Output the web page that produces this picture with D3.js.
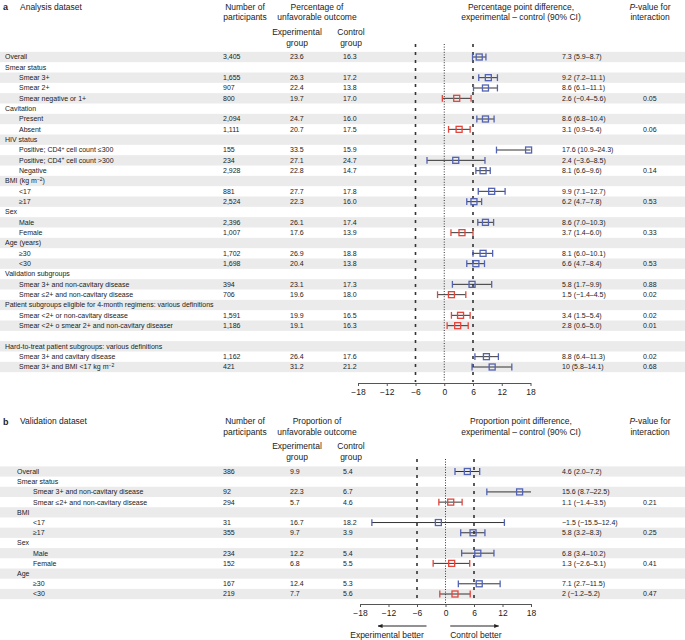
<!DOCTYPE html>
<meta charset="utf-8">
<style>
body { margin: 0; background: #fff; }
svg { font-family: "Liberation Sans", Arial, Helvetica, sans-serif; }
text { fill: #222; }
.stripe { fill: #ebebeb; }
.row { font-size: 7px; }
.head { font-size: 8.5px; }
.tag { font-size: 9px; font-weight: bold; }
.whisker { stroke: #333; stroke-width: 1; }
.ref { fill: none; stroke: #333; }
.axis path, .axis line { stroke: #555; }
.axis text { font-size: 8.5px; fill: #222; font-family: "Liberation Sans", Arial, sans-serif; }
</style>
<svg width="685" height="640"></svg>
<script src="https://d3js.org/d3.v7.min.js"></script>
<script>

// ---- panel a: analysis dataset ----
var labelsA = ["Overall", "Smear status", "Smear 3+", "Smear 2+", "Smear negative or 1+",
  "Cavitation", "Present", "Absent",
  "HIV status", "Positive; CD4^{+} cell count ≤300", "Positive; CD4^{+} cell count >300", "Negative",
  "BMI (kg m^{−2})", "<17", "≥17",
  "Sex", "Male", "Female",
  "Age (years)", "≥30", "<30",
  "Validation subgroups", "Smear 3+ and non-cavitary disease", "Smear ≤2+ and non-cavitary disease",
  "Patient subgroups eligible for 4-month regimens: various definitions",
  "Smear <2+ or non-cavitary disease", "Smear <2+ o smear 2+ and non-cavitary diseaser",
  "",
  "Hard-to-treat patient subgroups: various definitions",
  "Smear 3+ and cavitary disease", "Smear 3+ and BMI <17 kg m^{−2}"];
var levelsA = [0, 0, 1, 1, 1, 0, 1, 1, 0, 1, 1, 1, 0, 1, 1, 0, 1, 1, 0, 1, 1, 0, 1, 1, 0, 1, 1, 0, 0, 1, 1];
var nA = ["3,405", null, "1,655", "907", "800", null, "2,094", "1,111", null, "155", "234", "2,928",
  null, "881", "2,524", null, "2,396", "1,007", null, "1,702", "1,698", null, "394", "706",
  null, "1,591", "1,186", null, null, "1,162", "421"];
var expA = [23.6, null, 26.3, 22.4, 19.7, null, 24.7, 20.7, null, 33.5, 27.1, 22.8, null, 27.7, 22.3,
  null, 26.1, 17.6, null, 26.9, 20.4, null, 23.1, 19.6, null, 19.9, 19.1, null, null, 26.4, 31.2];
var ctlA = [16.3, null, 17.2, 13.8, 17.0, null, 16.0, 17.5, null, 15.9, 24.7, 14.7, null, 17.8, 16.0,
  null, 17.4, 13.9, null, 18.8, 13.8, null, 17.3, 18.0, null, 16.5, 16.3, null, null, 17.6, 21.2];
var estA = [7.3, null, 9.2, 8.6, 2.6, null, 8.6, 3.1, null, 17.6, 2.4, 8.1, null, 9.9, 6.2,
  null, 8.6, 3.7, null, 8.1, 6.6, null, 5.8, 1.5, null, 3.4, 2.8, null, null, 8.8, 10];
var loA = [5.9, null, 7.2, 6.1, -0.4, null, 6.8, 0.9, null, 10.9, -3.6, 6.6, null, 7.1, 4.7,
  null, 7.0, 1.4, null, 6.0, 4.7, null, 1.7, -1.4, null, 1.5, 0.6, null, null, 6.4, 5.8];
var hiA = [8.7, null, 11.1, 11.1, 5.6, null, 10.4, 5.4, null, 24.3, 8.5, 9.6, null, 12.7, 7.8,
  null, 10.3, 6.0, null, 10.1, 8.4, null, 9.9, 4.5, null, 5.4, 5.0, null, null, 11.3, 14.1];
var pA = [null, null, null, null, "0.05", null, null, "0.06", null, null, null, "0.14", null, null, "0.53",
  null, null, "0.33", null, null, "0.53", null, "0.88", "0.02", null, "0.02", "0.01", null, null, "0.02", "0.68"];
var redA = [4, 7, 17, 23, 25, 26];

// ---- panel b: validation dataset ----
var labelsB = ["Overall", "Smear status", "Smear 3+ and non-cavitary disease", "Smear ≤2+ and non-cavitary disease",
  "BMI", "<17", "≥17", "Sex", "Male", "Female", "Age", "≥30", "<30"];
var levelsB = [0, 0, 1, 1, 0, 1, 1, 0, 1, 1, 0, 1, 1];
var nB = ["386", null, "92", "294", null, "31", "355", null, "234", "152", null, "167", "219"];
var expB = [9.9, null, 22.3, 5.7, null, 16.7, 9.7, null, 12.2, 6.8, null, 12.4, 7.7];
var ctlB = [5.4, null, 6.7, 4.6, null, 18.2, 3.9, null, 5.4, 5.5, null, 5.3, 5.6];
var estB = [4.6, null, 15.6, 1.1, null, -1.5, 5.8, null, 6.8, 1.3, null, 7.1, 2];
var loB = [2.0, null, 8.7, -1.4, null, -15.5, 3.2, null, 3.4, -2.6, null, 2.7, -1.2];
var hiB = [7.2, null, 22.5, 3.5, null, 12.4, 8.3, null, 10.2, 5.1, null, 11.5, 5.2];
var pB = [null, null, null, "0.21", null, null, "0.25", null, null, "0.41", null, null, "0.47"];
var redB = [3, 9, 12];

var tickVals = [-18, -12, -6, 0, 6, 12, 18];
var refLines = [-6, 0, 6];

var blue = "#5262b4", red = "#e4453b";
var svg = d3.select("svg");

function fmt1(v) { return v.toFixed(1).replace("-", "−"); }
function fmtEst(v) { return (Number.isInteger(v) ? String(v) : v.toFixed(1)).replace("-", "−"); }

// label with ^{sup} pieces
function richText(sel, str) {
  var parts = str.split(/\^\{([^}]*)\}/);
  var back = 0;
  parts.forEach(function(p, i) {
    if (i % 2) {
      sel.append("tspan").attr("dy", -2.6).style("font-size", "5px").text(p);
      back = 2.6;
    } else if (p) {
      var ts = sel.append("tspan").text(p);
      if (back) ts.attr("dy", back);
      back = 0;
    }
  });
}

function headText(x, y, lines, anchor, cls) {
  lines.forEach(function(l, i) {
    var t = svg.append("text")
        .attr("class", cls || "head")
        .attr("x", x).attr("y", y[i])
        .attr("dy", "0.35em")
        .attr("text-anchor", anchor || "middle");
    if (l.indexOf("P-value") === 0) {
      t.append("tspan").style("font-style", "italic").text("P");
      t.append("tspan").text(l.slice(1));
    } else t.text(l);
  });
}

function panel(o) {
  var n = o.labels.length;
  var y = d3.scaleLinear().domain([0, n - 1]).range([o.first, o.last]);
  var rowH = (o.last - o.first) / (n - 1);
  var x = d3.scaleLinear().domain([-18, 18]).range(o.xr);
  var h = o.head;

  // headers
  headText(3, [h], [o.tag], "start", "tag");
  headText(20, [h], [o.title], "start");
  headText(245, [h, h + 10.5], ["Number of", "participants"]);
  headText(317, [h, h + 10.5], o.pctHead);
  headText(297, [h + 25, h + 36], ["Experimental", "group"]);
  headText(351, [h + 25, h + 36], ["Control", "group"]);
  headText(521, [h, h + 10.5], o.diffHead);
  headText(650, [h, h + 10.5], ["P-value for", "interaction"]);

  // stripes
  svg.append("g").selectAll("rect")
      .data(d3.range(n).filter(function(i) { return i % 2 === 0; }))
    .enter().append("rect")
      .attr("class", "stripe")
      .attr("x", 0).attr("width", 685)
      .attr("y", function(i) { return y(i) - rowH / 2; })
      .attr("height", rowH);

  // reference lines
  svg.append("g").selectAll("line")
      .data(refLines)
    .enter().append("line")
      .attr("class", "ref")
      .attr("x1", function(d) { return x(d); }).attr("x2", function(d) { return x(d); })
      .attr("y1", o.refTop).attr("y2", o.axisY - 1)
      .attr("stroke-width", function(d) { return d === 0 ? 1 : 1.6; })
      .attr("stroke-dasharray", function(d) { return d === 0 ? "1,1.6" : "3,5"; });

  var rows = svg.append("g").attr("class", "row");
  d3.range(n).forEach(function(i) {
    var yy = y(i);
    var t = rows.append("text")
        .attr("x", o.indent[o.levels[i]]).attr("y", yy).attr("dy", "0.35em");
    richText(t, o.labels[i]);
    if (o.nn[i] == null) return;
    rows.append("text").attr("x", 223).attr("y", yy).attr("dy", "0.35em").text(o.nn[i]);
    rows.append("text").attr("x", 290).attr("y", yy).attr("dy", "0.35em").text(fmt1(o.exp[i]));
    rows.append("text").attr("x", 343).attr("y", yy).attr("dy", "0.35em").text(fmt1(o.ctl[i]));
    rows.append("text").attr("x", 562).attr("y", yy).attr("dy", "0.35em")
        .text(fmtEst(o.est[i]) + " (" + fmt1(o.lo[i]) + "–" + fmt1(o.hi[i]) + ")");
    if (o.p[i]) rows.append("text").attr("x", 643).attr("y", yy).attr("dy", "0.35em").text(o.p[i]);

    var col = o.red.indexOf(i) >= 0 ? red : blue;
    var lo = Math.max(o.lo[i], -18), hi = Math.min(o.hi[i], 18);
    rows.append("line").attr("class", "whisker")
        .attr("x1", x(lo)).attr("x2", x(hi)).attr("y1", yy).attr("y2", yy);
    [o.lo[i], o.hi[i]].forEach(function(v) {
      if (v < -18 || v > 18) return;
      rows.append("line")
          .attr("x1", x(v)).attr("x2", x(v))
          .attr("y1", yy - 3.4).attr("y2", yy + 3.4)
          .attr("stroke", col).attr("stroke-width", 1.3);
    });
    rows.append("rect")
        .attr("x", x(o.est[i]) - 3).attr("y", yy - 3)
        .attr("width", 6).attr("height", 6)
        .attr("fill", "none").attr("stroke", col).attr("stroke-width", 1.3);
  });

  // axis
  svg.append("g").attr("class", "axis")
      .attr("transform", "translate(0," + o.axisY + ")")
      .call(d3.axisBottom(x).tickValues(tickVals).tickSize(3).tickSizeOuter(0).tickPadding(3));
  return x;
}

panel({
  tag: "a", title: "Analysis dataset", head: 7,
  pctHead: ["Percentage of", "unfavorable outcome"],
  diffHead: ["Percentage point difference,", "experimental – control (90% CI)"],
  labels: labelsA, levels: levelsA, nn: nA, exp: expA, ctl: ctlA,
  est: estA, lo: loA, hi: hiA, p: pA, red: redA,
  indent: [5, 19], first: 57, last: 367, axisY: 383, refTop: 44, xr: [358, 530.5]
});

var xb = panel({
  tag: "b", title: "Validation dataset", head: 421.5,
  pctHead: ["Proportion of", "unfavorable outcome"],
  diffHead: ["Proportion point difference,", "experimental – control (90% CI)"],
  labels: labelsB, levels: levelsB, nn: nB, exp: expB, ctl: ctlB,
  est: estB, lo: loB, hi: hiB, p: pB, red: redB,
  indent: [17, 33], first: 471.5, last: 594, axisY: 604, refTop: 459, xr: [360, 531]
});

// direction arrows
svg.append("defs").append("marker")
    .attr("id", "arr").attr("viewBox", "0 0 10 10")
    .attr("refX", 9).attr("refY", 5)
    .attr("markerWidth", 5).attr("markerHeight", 5)
    .attr("orient", "auto-start-reverse")
  .append("path").attr("d", "M0,1L10,5L0,9z").attr("fill", "#222");

var arrows = [
  { from: -4, to: -14.2, label: "Experimental better", at: -12.3 },
  { from: 1, to: 11.2, label: "Control better", at: 6.4 }
];
arrows.forEach(function(a) {
  svg.append("line")
      .attr("x1", xb(a.from)).attr("x2", xb(a.to))
      .attr("y1", 626).attr("y2", 626)
      .attr("stroke", "#222").attr("stroke-width", 1)
      .attr("marker-end", "url(#arr)");
  svg.append("text").attr("class", "head")
      .attr("x", xb(a.at)).attr("y", 635).attr("dy", "0.35em")
      .attr("text-anchor", "middle").text(a.label);
});

</script>
